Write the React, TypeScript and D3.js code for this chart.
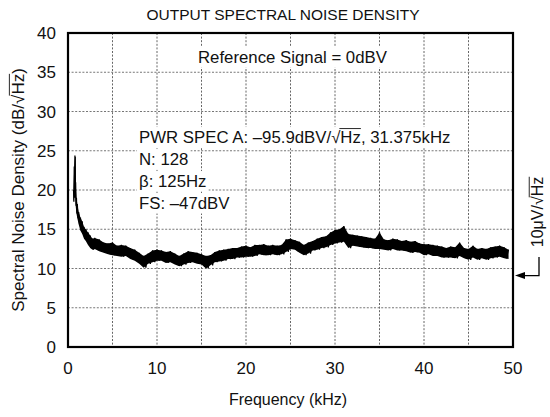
import React, { useEffect, useRef } from 'react';
import * as d3 from 'd3';

// Trace: frequency (kHz) with upper / lower envelope of the noisy band (dB)
const FREQ_KHZ = [
  0.62, 0.7, 0.78, 0.82, 0.86, 0.95, 1.05, 1.2, 1.4, 1.6, 1.8, 2.0, 2.25, 2.5, 2.75,
  3, 3.5, 4, 4.5, 5, 5.5, 6, 6.5, 7, 7.5,
  8, 8.5, 9, 9.5, 10, 10.5, 11, 11.5, 12, 12.5,
  13, 13.5, 14, 14.5, 15, 15.5, 16, 16.5, 17, 17.5,
  18, 18.5, 19, 19.5, 20, 20.5, 21, 21.5, 22, 22.5,
  23, 23.5, 24, 24.5, 25, 25.5, 26, 26.5, 27, 27.5,
  28, 28.5, 29, 29.5, 30, 30.5, 31, 31.5, 32, 32.5,
  33, 33.5, 34, 34.5, 35, 35.5, 36, 36.5, 37, 37.5,
  38, 38.5, 39, 39.5, 40, 40.5, 41, 41.5, 42, 42.5,
  43, 43.5, 44, 44.5, 45, 45.5, 46, 46.5, 47, 47.5,
  48, 48.5, 49, 49.5,
];
const HI_DB = [
  20, 23, 24.4, 24.2, 21, 19, 18.2, 17.2, 16.5, 16, 15.3, 15, 14.6, 14.2, 13.8,
  13.9, 13.7, 13.3, 13.2, 13.3, 12.9, 13.0, 12.9, 12.6, 12.4,
  12.0, 11.6, 11.9, 12.3, 12.4, 12.3, 12.1, 12.2, 11.9, 11.6,
  11.9, 12.2, 12.1, 12.0, 11.8, 11.6, 11.7, 12.1, 12.3, 12.4,
  12.5, 12.6, 12.6, 12.8, 12.9, 12.7, 13.0, 13.0, 13.1, 12.9,
  13.0, 12.9, 13.0, 13.7, 13.8, 13.6, 13.4, 13.0, 13.3, 13.5,
  13.8, 14.0, 14.1, 14.6, 14.9, 15.0, 15.4, 14.4, 14.3, 14.2,
  14.1, 14.0, 13.9, 13.8, 14.6, 13.7, 13.6, 13.8, 13.7, 13.5,
  13.6, 13.4, 13.5, 13.2, 13.1, 13.1, 13.0, 12.9, 12.8, 12.6,
  12.8, 12.7, 13.3, 12.6, 12.5, 12.9, 12.5, 12.6, 12.5, 12.7,
  12.8, 12.9, 12.7, 12.4,
];
const LO_DB = [
  18.5, 19, 20, 19, 18, 17, 16.4, 15.6, 14.8, 14.4, 13.8, 13.5, 13.0, 12.6, 12.4,
  12.5, 12.2, 12.0, 11.8, 11.7, 11.6, 11.5, 11.6, 11.2, 11.0,
  10.6, 10.1, 10.6, 10.8, 11.0, 11.0, 10.7, 10.8, 10.5, 10.3,
  10.5, 10.7, 10.8, 10.6, 10.5, 10.0, 10.4, 10.8, 10.9, 11.0,
  11.2, 11.2, 11.4, 11.4, 11.5, 11.5, 11.6, 11.8, 11.7, 11.7,
  11.8, 11.7, 11.8, 12.1, 12.5, 12.4, 12.0, 11.7, 11.9, 12.3,
  12.4, 12.6, 12.7, 13.0, 13.2, 13.3, 13.4, 12.6, 12.9, 12.8,
  12.7, 12.6, 12.6, 12.5, 12.5, 12.4, 12.3, 12.5, 12.3, 12.3,
  12.2, 12.0, 12.1, 12.0, 11.7, 11.8, 11.6, 11.6, 11.4, 11.4,
  11.4, 11.3, 11.6, 11.3, 11.1, 11.4, 11.1, 11.3, 11.1, 11.3,
  11.4, 11.5, 11.3, 11.2,
];

const X_TICKS = [0, 10, 20, 30, 40, 50];
const Y_TICKS = [0, 5, 10, 15, 20, 25, 30, 35, 40];
const X_GRID = [5, 10, 15, 20, 25, 30, 35, 40, 45];
const Y_GRID = [5, 10, 15, 20, 25, 30, 35];
const MARKER_DB = 9.1;

const TITLE = 'OUTPUT SPECTRAL NOISE DENSITY';
const X_LABEL = 'Frequency (kHz)';

type Seg = { t: string; over?: boolean };

export default function App() {
  const ref = useRef<SVGSVGElement>(null);

  useEffect(() => {
    const svg = d3.select(ref.current as SVGSVGElement);
    svg.selectAll('*').remove();
    const W = 550;
    const H = 417;
    const m = { left: 68, right: 513, top: 33, bottom: 347 };
    const font = "'Liberation Sans', Arial, Helvetica, sans-serif";
    const x = d3.scaleLinear().domain([0, 50]).range([m.left, m.right]);
    const y = d3.scaleLinear().domain([0, 40]).range([m.bottom, m.top]);

    svg.append('rect').attr('width', W).attr('height', H).attr('fill', '#fff');

    // grid
    svg.append('g').selectAll('line').data(X_GRID).join('line')
      .attr('x1', (d) => x(d)).attr('x2', (d) => x(d))
      .attr('y1', m.top).attr('y2', m.bottom)
      .attr('stroke', '#555').attr('stroke-width', 0.9).attr('stroke-dasharray', '2,1.6');
    svg.append('g').selectAll('line').data(Y_GRID).join('line')
      .attr('y1', (d) => y(d)).attr('y2', (d) => y(d))
      .attr('x1', m.left).attr('x2', m.right)
      .attr('stroke', '#666').attr('stroke-width', 0.9).attr('stroke-dasharray', '2,1.6');

    // rich text helper
    const rich = (parent: any, segs: Seg[], size: number, anchor: 'start' | 'middle', bg: boolean) => {
      const grp = parent.append('g');
      const inner = grp.append('g');
      let cx = 0;
      segs.forEach((s) => {
        const t = inner.append('text').attr('x', cx).attr('y', 0)
          .attr('font-size', size).attr('font-family', font).attr('fill', '#111').text(s.t);
        const w = (t.node() as SVGTextElement).getComputedTextLength();
        if (s.over) {
          inner.append('line').attr('x1', cx - 1).attr('x2', cx + w)
            .attr('y1', -size * 0.86).attr('y2', -size * 0.86)
            .attr('stroke', '#111').attr('stroke-width', 0.9);
        }
        cx += w;
      });
      const off = anchor === 'middle' ? -cx / 2 : 0;
      inner.attr('transform', `translate(${off},0)`);
      if (bg) {
        grp.insert('rect', ':first-child')
          .attr('x', off - 2).attr('y', -size * 0.95)
          .attr('width', cx + 4).attr('height', size * 1.22)
          .attr('fill', '#fff');
      }
      return grp;
    };

    const TS = 16.8;
    // annotations inside plot (white backgrounds)
    rich(svg, [{ t: 'Reference Signal = 0dBV' }], TS, 'start', true)
      .attr('transform', 'translate(198,63)');
    rich(svg, [{ t: 'PWR SPEC A: \u201395.9dBV/' }, { t: '\u221A' }, { t: 'Hz', over: true }, { t: ', 31.375kHz' }], TS, 'start', true)
      .attr('transform', 'translate(139,143)');
    rich(svg, [{ t: 'N: 128' }], TS, 'start', true).attr('transform', 'translate(139,165)');
    rich(svg, [{ t: '\u03B2: 125Hz' }], TS, 'start', true).attr('transform', 'translate(139,187)');
    rich(svg, [{ t: 'FS: \u201347dBV' }], TS, 'start', true).attr('transform', 'translate(139,209)');

    // trace
    const pts = FREQ_KHZ.map((f, i) => ({ f, hi: HI_DB[i], lo: LO_DB[i] }));
    const area = d3.area<any>().x((d) => x(d.f)).y0((d) => y(d.lo)).y1((d) => y(d.hi));
    svg.append('path').attr('d', area(pts) as string).attr('fill', '#000');
    const zig: [number, number][] = [];
    pts.forEach((p, i) => {
      zig.push([x(p.f), y(p.hi)]);
      if (i < pts.length - 1) zig.push([(x(p.f) + x(pts[i + 1].f)) / 2, y(p.lo)]);
    });
    svg.append('path').attr('d', d3.line()(zig) as string)
      .attr('fill', 'none').attr('stroke', '#000').attr('stroke-width', 1.2);

    // frame
    svg.append('rect').attr('x', m.left).attr('y', m.top)
      .attr('width', m.right - m.left).attr('height', m.bottom - m.top)
      .attr('fill', 'none').attr('stroke', '#000').attr('stroke-width', 2.2);

    // tick labels
    svg.append('g').selectAll('text').data(Y_TICKS).join('text')
      .attr('x', 56).attr('y', (d) => y(d)).attr('dy', '0.36em')
      .attr('text-anchor', 'end').attr('font-size', 17).attr('font-family', font).attr('fill', '#111')
      .text((d) => String(d));
    svg.append('g').selectAll('text').data(X_TICKS).join('text')
      .attr('x', (d) => x(d)).attr('y', 368).attr('dy', '0.36em')
      .attr('text-anchor', 'middle').attr('font-size', 17).attr('font-family', font).attr('fill', '#111')
      .text((d) => String(d));

    // title & axis labels
    svg.append('text').attr('x', 283).attr('y', 20).attr('text-anchor', 'middle')
      .attr('font-size', 15.5).attr('font-family', font).attr('fill', '#111').text(TITLE);
    svg.append('text').attr('x', 288).attr('y', 405).attr('text-anchor', 'middle')
      .attr('font-size', 16).attr('font-family', font).attr('fill', '#111').text(X_LABEL);
    rich(svg, [{ t: 'Spectral Noise Density (dB/' }, { t: '\u221A' }, { t: 'Hz', over: true }, { t: ')' }], 17, 'middle', false)
      .attr('transform', 'translate(24,190) rotate(-90)');

    // right-side marker
    rich(svg, [{ t: '10\u03BCV/' }, { t: '\u221A' }, { t: 'Hz', over: true }], 16, 'middle', false)
      .attr('transform', 'translate(543,212) rotate(-90)');
    const my = y(MARKER_DB);
    svg.append('path')
      .attr('d', `M539,257 L539,${my} L${m.right + 10},${my}`)
      .attr('fill', 'none').attr('stroke', '#000').attr('stroke-width', 1.3);
    svg.append('path')
      .attr('d', `M${m.right + 2},${my} L${m.right + 12},${my - 3.5} L${m.right + 12},${my + 3.5} Z`)
      .attr('fill', '#000');
  }, []);

  return (
    <svg
      ref={ref}
      width={550}
      height={417}
      style={{ position: 'absolute', left: 0, top: 0, background: '#fff' }}
    />
  );
}
